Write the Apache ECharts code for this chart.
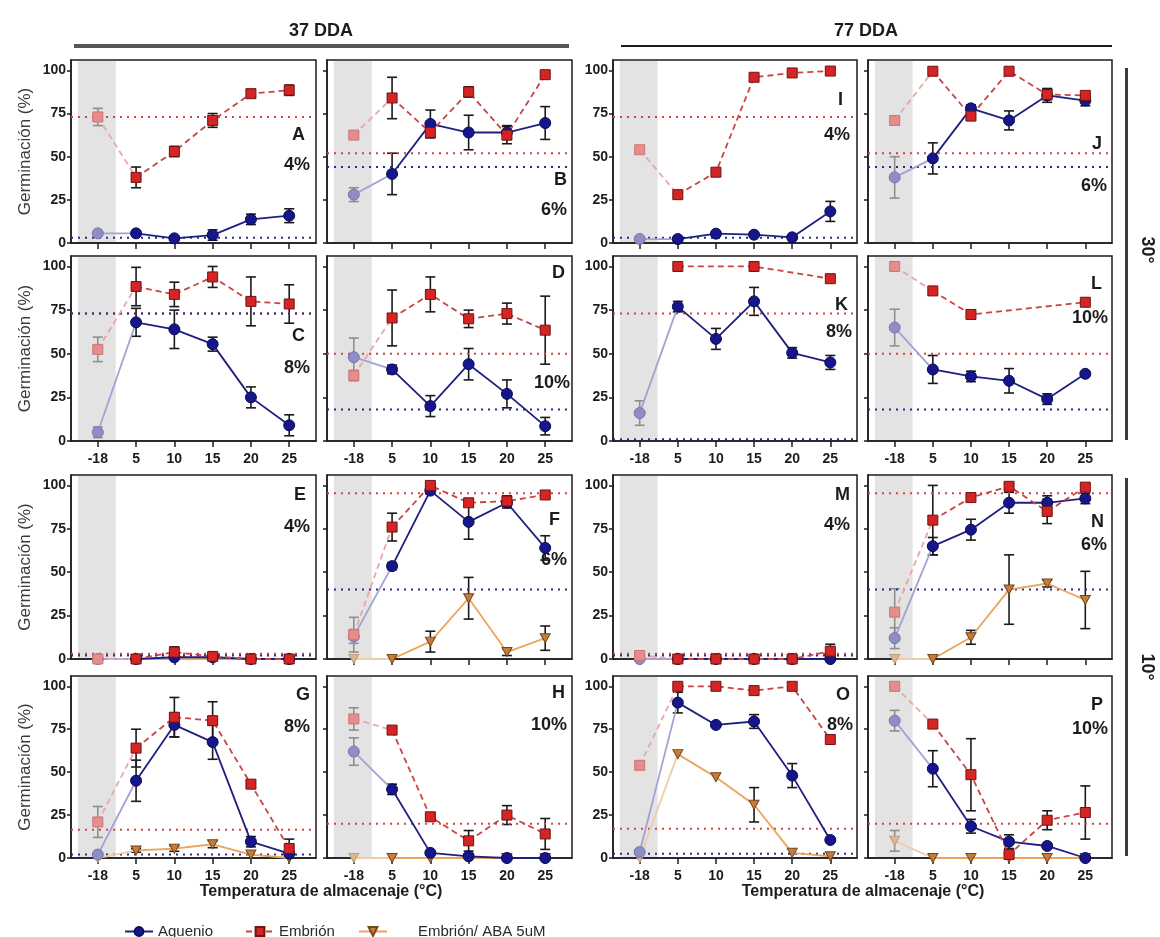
<!DOCTYPE html>
<html>
<head>
<meta charset="utf-8">
<script src="https://cdn.jsdelivr.net/npm/echarts@6/dist/echarts.min.js"></script>
<style>
  html, body { margin: 0; padding: 0; background: #ffffff; }
  #chart { width: 1160px; height: 937px; }
</style>
</head>
<body>
<div id="chart"></div>
<script>
// Storage temperatures (°C) shown on every x axis
const TEMP_LABELS = ['-18', '5', '10', '15', '20', '25'];
const Y_TICKS = [0, 25, 50, 75, 100];

// ---- 37 DDA, 30° ----
const A_aquenio = [5.6, 5.6, 2.7, 4.6, 13.7, 15.8];
const A_aquenioErr = [1, 1.5, 1, 3, 3, 4];
const A_embrion = [73, 38, 53, 71, 86.5, 88.5];
const A_embrionErr = [5, 6, 3, 4, 2, 3];
const A_ref = [73, 3];            // [embrión, aquenio] reference levels

const B_aquenio = [28, 40, 69, 64, 64, 69.5];
const B_aquenioErr = [4, 12, 8, 10, 4, 9.5];
const B_embrion = [62.5, 84, 64, 87.5, 62.5, 97.5];
const B_embrionErr = [2, 12, 3, 3, 5, 1];
const B_ref = [52, 44];

const C_aquenio = [5, 68, 64, 55.5, 25, 9];
const C_aquenioErr = [3, 8, 11, 4, 6, 6];
const C_embrion = [52.5, 88.5, 84, 94, 80, 78.5];
const C_embrionErr = [7, 11, 7, 6, 14, 11];
const C_ref = [73, 73];

const D_aquenio = [48, 41, 20, 44, 27, 8.5];
const D_aquenioErr = [11, 2.5, 6, 9, 8, 5];
const D_embrion = [37.5, 70.5, 84, 70, 73, 63.5];
const D_embrionErr = [3, 16, 10, 5, 6, 19.5];
const D_ref = [50, 18];

// ---- 37 DDA, 10° ----
const E_aquenio = [0, 0, 1, 1, 0, 0];
const E_aquenioErr = [0, 0, 0, 0, 0, 0];
const E_embrion = [0, 0, 4, 1.5, 0, 0];
const E_embrionErr = [0, 0, 3, 1, 0, 0];
const E_aba = [0, 0, 0, 0, 0, 0];
const E_abaErr = [0, 0, 0, 0, 0, 0];
const E_ref = [3, 2];

const F_aquenio = [13, 53.5, 97, 79, 90, 64];
const F_aquenioErr = [4, 2, 2, 10, 3, 7];
const F_embrion = [14, 76, 100, 90, 91, 94.5];
const F_embrionErr = [10, 8, 1, 2, 3, 1];
const F_aba = [0, 0, 10, 35, 4, 12];
const F_abaErr = [0, 0, 6, 12, 2, 7];
const F_ref = [95.5, 40];

const G_aquenio = [2, 45, 77.5, 67.5, 9.5, 2.5];
const G_aquenioErr = [1, 12, 7, 10, 3, 1];
const G_embrion = [21, 64, 82, 80, 43, 5.5];
const G_embrionErr = [9, 11, 11.5, 11, 1, 5.5];
const G_aba = [0, 4.4, 5.4, 8, 2, 0];
const G_abaErr = [0, 1, 1.5, 2, 0, 0];
const G_ref = [16.5, 2];

const H_aquenio = [62, 40, 3, 1, 0, 0];
const H_aquenioErr = [8, 3, 1, 0, 0, 0];
const H_embrion = [81, 74.5, 24, 10, 25, 14];
const H_embrionErr = [6.5, 1, 1, 6, 5.5, 9];
const H_aba = [0, 0, 0, 0, 0, 0];
const H_abaErr = [0, 0, 0, 0, 0, 0];
const H_ref = [20, null];

// ---- 77 DDA, 30° ----
const I_aquenio = [2.3, 2.3, 5.4, 4.8, 3.3, 18.3];
const I_aquenioErr = [0, 1, 1, 1, 1, 5.8];
const I_embrion = [54, 28, 41, 96, 98.5, 99.6];
const I_embrionErr = [0, 0, 0, 0, 0, 0];
const I_ref = [73, 3];

const J_aquenio = [38, 49, 78, 71, 85.5, 82.5];
const J_aquenioErr = [12, 9, 2, 5.5, 4, 3];
const J_embrion = [71, 99.5, 73.5, 99.5, 86, 85.5];
const J_embrionErr = [0, 0, 2, 0, 3, 1];
const J_ref = [52, 44];

const K_aquenio = [16, 77, 58.5, 80, 50.5, 45];
const K_aquenioErr = [7, 3, 6, 8, 3, 4];
const K_embrion = [null, 100, null, 100, null, 93];
const K_embrionErr = [0, 0, 0, 0, 0, 0];
const K_ref = [73, 1];

const L_aquenio = [65, 41, 37, 34.5, 24, 38.5];
const L_aquenioErr = [10.5, 8, 3, 7, 3, 1];
const L_embrion = [100, 86, 72.5, null, null, 79.5];
const L_embrionErr = [0, 0, 0, 0, 0, 0];
const L_ref = [50, 18];

// ---- 77 DDA, 10° ----
const M_aquenio = [0, 0, 0, 0, 0, 0];
const M_aquenioErr = [0, 0, 0, 0, 0, 0];
const M_embrion = [2, 0, 0, 0, 0, 4.5];
const M_embrionErr = [0, 0, 0, 0, 0, 4];
const M_aba = [0, 0, 0, 0, 0, 0];
const M_abaErr = [0, 0, 0, 0, 0, 0];
const M_ref = [3, 2];

const N_aquenio = [12, 65, 74.5, 90, 90, 92.5];
const N_aquenioErr = [6, 5, 6, 6, 4, 3];
const N_embrion = [27, 80, 93, 99.5, 85, 99];
const N_embrionErr = [13.5, 20, 2, 1, 7, 2];
const N_aba = [0, 0, 12.5, 40, 43.5, 34];
const N_abaErr = [0, 0, 4, 20, 2, 16.5];
const N_ref = [95.5, 40];

const O_aquenio = [3.5, 90.5, 77.5, 79.5, 48, 10.5];
const O_aquenioErr = [0, 6, 1, 4, 7, 0];
const O_embrion = [54, 100, 100, 97.5, 100, 69];
const O_embrionErr = [0, 0, 0, 0, 0, 0];
const O_aba = [0, 60.5, 47, 31, 3, 1];
const O_abaErr = [0, 0, 0, 10, 0, 0];
const O_ref = [17, 2.5];

const P_aquenio = [80, 52, 18.5, 9.5, 7, 0];
const P_aquenioErr = [6, 10.5, 4, 4, 1, 0];
const P_embrion = [100, 78, 48.5, 2, 22, 26.5];
const P_embrionErr = [0, 0, 21, 1, 5.5, 15.5];
const P_aba = [10, 0, 0, 0, 0, 0];
const P_abaErr = [6, 0, 0, 0, 0, 0];
const P_ref = [20, null];

// Panel table assembled from the arrays above
const PANELS = [
  { id: 'A', pct: '4%',  col: 0, row: 0, aquenio: A_aquenio, aquenioErr: A_aquenioErr, embrion: A_embrion, embrionErr: A_embrionErr, ref: A_ref },
  { id: 'B', pct: '6%',  col: 1, row: 0, aquenio: B_aquenio, aquenioErr: B_aquenioErr, embrion: B_embrion, embrionErr: B_embrionErr, ref: B_ref },
  { id: 'C', pct: '8%',  col: 0, row: 1, aquenio: C_aquenio, aquenioErr: C_aquenioErr, embrion: C_embrion, embrionErr: C_embrionErr, ref: C_ref },
  { id: 'D', pct: '10%', col: 1, row: 1, aquenio: D_aquenio, aquenioErr: D_aquenioErr, embrion: D_embrion, embrionErr: D_embrionErr, ref: D_ref },
  { id: 'E', pct: '4%',  col: 0, row: 2, aquenio: E_aquenio, aquenioErr: E_aquenioErr, embrion: E_embrion, embrionErr: E_embrionErr, aba: E_aba, abaErr: E_abaErr, ref: E_ref },
  { id: 'F', pct: '6%',  col: 1, row: 2, aquenio: F_aquenio, aquenioErr: F_aquenioErr, embrion: F_embrion, embrionErr: F_embrionErr, aba: F_aba, abaErr: F_abaErr, ref: F_ref },
  { id: 'G', pct: '8%',  col: 0, row: 3, aquenio: G_aquenio, aquenioErr: G_aquenioErr, embrion: G_embrion, embrionErr: G_embrionErr, aba: G_aba, abaErr: G_abaErr, ref: G_ref },
  { id: 'H', pct: '10%', col: 1, row: 3, aquenio: H_aquenio, aquenioErr: H_aquenioErr, embrion: H_embrion, embrionErr: H_embrionErr, aba: H_aba, abaErr: H_abaErr, ref: H_ref },
  { id: 'I', pct: '4%',  col: 2, row: 0, aquenio: I_aquenio, aquenioErr: I_aquenioErr, embrion: I_embrion, embrionErr: I_embrionErr, ref: I_ref },
  { id: 'J', pct: '6%',  col: 3, row: 0, aquenio: J_aquenio, aquenioErr: J_aquenioErr, embrion: J_embrion, embrionErr: J_embrionErr, ref: J_ref },
  { id: 'K', pct: '8%',  col: 2, row: 1, aquenio: K_aquenio, aquenioErr: K_aquenioErr, embrion: K_embrion, embrionErr: K_embrionErr, ref: K_ref },
  { id: 'L', pct: '10%', col: 3, row: 1, aquenio: L_aquenio, aquenioErr: L_aquenioErr, embrion: L_embrion, embrionErr: L_embrionErr, ref: L_ref },
  { id: 'M', pct: '4%',  col: 2, row: 2, aquenio: M_aquenio, aquenioErr: M_aquenioErr, embrion: M_embrion, embrionErr: M_embrionErr, aba: M_aba, abaErr: M_abaErr, ref: M_ref },
  { id: 'N', pct: '6%',  col: 3, row: 2, aquenio: N_aquenio, aquenioErr: N_aquenioErr, embrion: N_embrion, embrionErr: N_embrionErr, aba: N_aba, abaErr: N_abaErr, ref: N_ref },
  { id: 'O', pct: '8%',  col: 2, row: 3, aquenio: O_aquenio, aquenioErr: O_aquenioErr, embrion: O_embrion, embrionErr: O_embrionErr, aba: O_aba, abaErr: O_abaErr, ref: O_ref },
  { id: 'P', pct: '10%', col: 3, row: 3, aquenio: P_aquenio, aquenioErr: P_aquenioErr, embrion: P_embrion, embrionErr: P_embrionErr, aba: P_aba, abaErr: P_abaErr, ref: P_ref }
];

// ---- layout ----
const FONT = '"Liberation Sans", Arial, Helvetica, sans-serif';
const INK = '#1c1c1c';
const COL_X = [71, 327, 613, 868];
const COL_W = [245, 245, 244, 244];
const ROW_Y = [60, 256, 475, 676];
const ROW_H = [183, 185, 184, 182];
const X_MIN = -0.7, X_MAX = 5.7, Y_MAX = 106;
const BAND = [-0.52, 0.47];   // shaded sub-zero storage zone

// panel tag placement: [letterRight, letterY, pctRight, pctY]
const TAG_POS = {
  A: [305, 135, 310, 165], B: [567, 180, 567, 210],
  C: [305, 336, 310, 368], D: [565, 273, 570, 383],
  E: [306, 495, 310, 527], F: [560, 520, 567, 560],
  G: [310, 695, 310, 727], H: [565, 693, 567, 725],
  I: [843, 100, 850, 135], J: [1102, 144, 1107, 186],
  K: [848, 305, 852, 332], L: [1102, 284, 1108, 318],
  M: [850, 495, 850, 525], N: [1104, 522, 1107, 545],
  O: [850, 695, 853, 725], P: [1103, 705, 1108, 729]
};

const STYLE = {
  aba: { name: 'Embrión/ ABA 5uM', symbol: 'path://M0,0L10,0L5,9Z', size: [10, 9],
         color: '#c67d3a', border: '#74461c', line: '#eba45a', type: 'solid',
         pale: '#dcb690', paleBorder: '#c4a07a', paleLine: '#f0cca8' },
  aquenio: { name: 'Aquenio', symbol: 'circle', size: 11,
         color: '#16168c', border: '#0b0b52', line: '#1f1f80', type: 'solid',
         pale: '#8f8cc6', paleBorder: '#7775ad', paleLine: '#a4a1d4' },
  embrion: { name: 'Embrión', symbol: 'rect', size: 10,
         color: '#d42424', border: '#6e1414', line: '#c94545', type: [6, 4],
         pale: '#e68c8c', paleBorder: '#cc7474', paleLine: '#eca6a6' }
};
const REF_COLORS = ['#cf4444', '#2a2a8e'];

function drawErrorBar(params, api) {
  const x = api.value(0), v = api.value(1), e = api.value(2), pale = api.value(3);
  const top = api.coord([x, Math.min(v + e, Y_MAX)]);
  const bot = api.coord([x, Math.max(v - e, 0)]);
  const st = { stroke: pale ? '#8e8e8e' : '#1a1a1a', lineWidth: 1.6 };
  const hw = 5;
  const kids = [
    { type: 'line', shape: { x1: top[0], y1: top[1], x2: bot[0], y2: bot[1] }, style: st },
    { type: 'line', shape: { x1: top[0] - hw, y1: top[1], x2: top[0] + hw, y2: top[1] }, style: st }
  ];
  if (v - e > 0) {
    kids.push({ type: 'line', shape: { x1: bot[0] - hw, y1: bot[1], x2: bot[0] + hw, y2: bot[1] }, style: st });
  }
  return { type: 'group', children: kids };
}

function drawBand(params, api) {
  const p1 = api.coord([BAND[0], Y_MAX - 0.6]);
  const p2 = api.coord([BAND[1], 0.6]);
  return { type: 'rect', shape: { x: p1[0], y: p1[1], width: p2[0] - p1[0], height: p2[1] - p1[1] },
           style: { fill: 'rgba(186,186,186,0.4)' } };
}

const grids = [], xAxes = [], yAxes = [], series = [], graphic = [];
const axisLineStyle = { color: INK, width: 1.5 };

PANELS.forEach((p, i) => {
  grids.push({
    left: COL_X[p.col], top: ROW_Y[p.row], width: COL_W[p.col], height: ROW_H[p.row],
    show: true, borderColor: INK, borderWidth: 1.5, backgroundColor: 'transparent',
    containLabel: false, outerBoundsMode: 'none'
  });
  const showX = p.row === 1 || p.row === 3;
  xAxes.push({
    type: 'value', gridIndex: i, min: X_MIN, max: X_MAX,
    axisLine: { show: true, onZero: false, lineStyle: axisLineStyle },
    axisTick: { show: true, customValues: [0, 1, 2, 3, 4, 5], length: 6, lineStyle: axisLineStyle },
    axisLabel: { show: showX, customValues: [0, 1, 2, 3, 4, 5], margin: 11,
                 formatter: v => TEMP_LABELS[Math.round(v)],
                 fontFamily: FONT, fontSize: 14, fontWeight: 'bold', color: INK },
    splitLine: { show: false }
  });
  const showY = p.col === 0 || p.col === 2;
  yAxes.push({
    type: 'value', gridIndex: i, min: 0, max: Y_MAX,
    axisLine: { show: true, onZero: false, lineStyle: axisLineStyle },
    axisTick: { show: true, customValues: Y_TICKS, length: 4, lineStyle: axisLineStyle },
    axisLabel: { show: showY, customValues: Y_TICKS, margin: 5,
                 fontFamily: FONT, fontSize: 14, fontWeight: 'bold', color: INK },
    splitLine: { show: false },
    name: p.col === 0 ? 'Germinación (%)' : '',
    nameLocation: 'middle', nameGap: 37, nameRotate: 90,
    nameTextStyle: { fontFamily: FONT, fontSize: 17, color: '#3a3a3a' }
  });

  // reference levels (dotted)
  p.ref.forEach((lvl, k) => {
    if (lvl == null) return;
    series.push({
      type: 'line', xAxisIndex: i, yAxisIndex: i, silent: true, symbol: 'none',
      data: [[X_MIN, lvl], [X_MAX, lvl]],
      lineStyle: { color: REF_COLORS[k], width: 2, type: [2, 5] }
    });
  });

  // shaded zone
  series.push({ type: 'custom', xAxisIndex: i, yAxisIndex: i, silent: true,
                renderItem: drawBand, data: [[0, 0]], encode: { x: 0, y: 1 } });

  const keys = ['aba', 'aquenio', 'embrion'].filter(k => p[k]);

  // error bars
  const errData = [];
  keys.forEach(k => {
    p[k].forEach((v, j) => {
      const e = p[k + 'Err'][j];
      if (v != null && e > 0) errData.push([j, v, e, j === 0 ? 1 : 0]);
    });
  });
  series.push({ type: 'custom', xAxisIndex: i, yAxisIndex: i, silent: true,
                renderItem: drawErrorBar, data: errData, encode: { x: 0, y: 1 } });

  keys.forEach(k => {
    const s = STYLE[k];
    const vals = p[k];
    // segment leaving the -18 °C point, drawn in lighter tone
    if (vals[0] != null) {
      const seg = [{ value: [0, vals[0]] }];
      if (vals[1] != null) seg.push({ value: [1, vals[1]], symbol: 'none' });
      series.push({
        type: 'line', name: s.name + ' -18', xAxisIndex: i, yAxisIndex: i, silent: true,
        data: seg, symbol: s.symbol, symbolSize: s.size,
        itemStyle: { color: s.pale, borderColor: s.paleBorder, borderWidth: 1 },
        lineStyle: { color: s.paleLine, width: 1.8, type: s.type }
      });
    }
    const main = [];
    for (let j = 1; j < vals.length; j++) if (vals[j] != null) main.push([j, vals[j]]);
    series.push({
      type: 'line', name: s.name, xAxisIndex: i, yAxisIndex: i, silent: true,
      data: main, symbol: s.symbol, symbolSize: s.size,
      itemStyle: { color: s.color, borderColor: s.border, borderWidth: 1 },
      lineStyle: { color: s.line, width: 1.8, type: s.type }
    });
  });

  // panel letter and moisture content
  const t = TAG_POS[p.id];
  graphic.push({ type: 'text', x: t[0], y: t[1], silent: true,
    style: { text: p.id, fill: INK, font: 'bold 18px ' + FONT,
             textAlign: 'right', align: 'right', textVerticalAlign: 'middle', verticalAlign: 'middle' } });
  graphic.push({ type: 'text', x: t[2], y: t[3], silent: true,
    style: { text: p.pct, fill: INK, font: 'bold 18px ' + FONT,
             textAlign: 'right', align: 'right', textVerticalAlign: 'middle', verticalAlign: 'middle' } });
});

function centeredText(text, x, y, font, rotation) {
  return { type: 'text', x: x, y: y, rotation: rotation || 0, silent: true,
    style: { text: text, fill: INK, font: font,
             textAlign: 'center', align: 'center', textVerticalAlign: 'middle', verticalAlign: 'middle' } };
}

// column headers
graphic.push(centeredText('37 DDA', 321, 31, 'bold 18px ' + FONT));
graphic.push({ type: 'rect', silent: true, shape: { x: 74, y: 44, width: 495, height: 4 }, style: { fill: '#555555' } });
graphic.push(centeredText('77 DDA', 866, 31, 'bold 18px ' + FONT));
graphic.push({ type: 'rect', silent: true, shape: { x: 621, y: 45, width: 491, height: 2 }, style: { fill: '#1a1a1a' } });

// row-group markers on the right
graphic.push({ type: 'rect', silent: true, shape: { x: 1125, y: 68, width: 3, height: 372 }, style: { fill: '#3c3c3c' } });
graphic.push(centeredText('30°', 1147, 250, 'bold 18px ' + FONT, -Math.PI / 2));
graphic.push({ type: 'rect', silent: true, shape: { x: 1125, y: 478, width: 3, height: 378 }, style: { fill: '#3c3c3c' } });
graphic.push(centeredText('10°', 1147, 667, 'bold 18px ' + FONT, -Math.PI / 2));

// shared x-axis titles
graphic.push(centeredText('Temperatura de almacenaje (°C)', 321, 892, 'bold 16px ' + FONT));
graphic.push(centeredText('Temperatura de almacenaje (°C)', 863, 892, 'bold 16px ' + FONT));

const legendBase = { top: 919, itemWidth: 28, itemHeight: 11, selectedMode: false,
                     textStyle: { fontFamily: FONT, fontSize: 15, color: '#2a2a2a' } };

const option = {
  animation: false,
  backgroundColor: '#ffffff',
  grid: grids,
  xAxis: xAxes,
  yAxis: yAxes,
  series: series,
  graphic: graphic,
  legend: [
    Object.assign({}, legendBase, { data: ['Aquenio'], left: 119 }),
    Object.assign({}, legendBase, { data: ['Embrión'], left: 240 }),
    Object.assign({}, legendBase, { data: ['Embrión/ ABA 5uM'], left: 353,
      textStyle: { fontFamily: FONT, fontSize: 15, color: '#2a2a2a', padding: [0, 0, 0, 26] } })
  ]
};

const chart = echarts.init(document.getElementById('chart'), null, { renderer: 'canvas' });
chart.setOption(option);
</script>
</body>
</html>
